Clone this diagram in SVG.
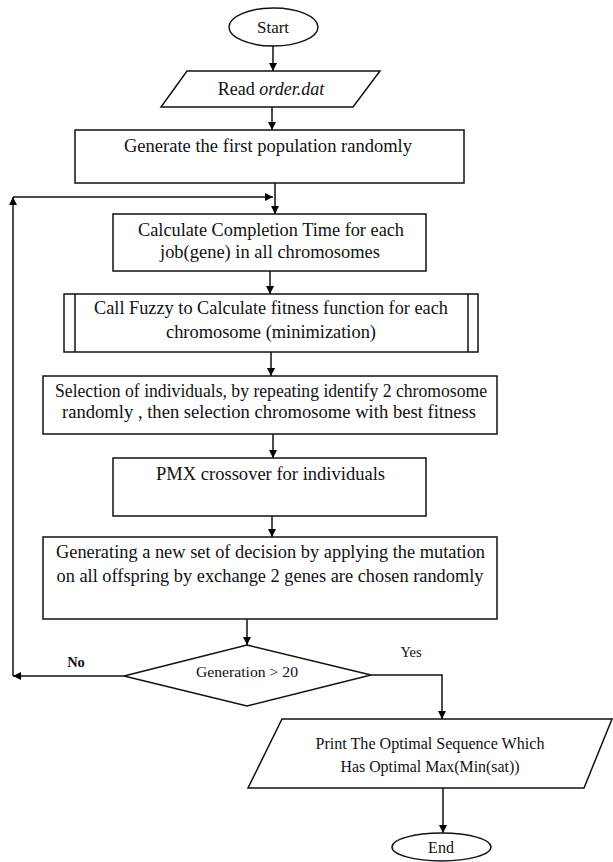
<svg xmlns="http://www.w3.org/2000/svg" width="613" height="862" viewBox="0 0 613 862" font-family="'Liberation Serif', 'DejaVu Serif', serif">
<defs>
<marker id="ah" viewBox="0 0 10 10" refX="10" refY="5" markerWidth="9" markerHeight="8" markerUnits="userSpaceOnUse" orient="auto">
<path d="M0,0 L10,5 L0,10 z" fill="#000"/>
</marker>
<style>
.shape{fill:#fff;stroke:#111;stroke-width:1.5}
.conn{fill:none;stroke:#111;stroke-width:1.5;marker-end:url(#ah)}
.line{fill:none;stroke:#111;stroke-width:1.5}
text{font-family:'Liberation Serif', 'DejaVu Serif', serif;fill:#111;text-anchor:middle}
.t18{font-size:18px}
.t16{font-size:16px}
.t14{font-size:14.5px}
</style>
</defs>
<rect width="613" height="862" fill="#fff"/>
<g id="connectors">
<path class="conn" d="M273,46 V71"/>
<path class="conn" d="M272,107 V130"/>
<path class="conn" d="M275,183 V214"/>
<path class="conn" d="M124,676 H13"/>
<path class="conn" d="M13,676 V197"/>
<path class="conn" d="M13,197 H273"/>
<path class="conn" d="M270,271 V294"/>
<path class="conn" d="M271,352 V376"/>
<path class="conn" d="M273,434 V458"/>
<path class="conn" d="M272,516 V537"/>
<path class="conn" d="M247,619 V645"/>
<path class="conn" d="M371,675 H442 V719"/>
<path class="conn" d="M443,788 V833"/>
</g>
<g id="start">
<ellipse class="shape" cx="273.5" cy="27" rx="44.5" ry="19"/>
<text x="273" y="33" font-size="17" textLength="32" lengthAdjust="spacingAndGlyphs">Start</text>
</g>
<g id="read">
<polygon class="shape" points="187,71 380,71 353,107 161,107"/>
<text class="t18" x="271" y="95">Read <tspan font-style="italic">order.dat</tspan></text>
</g>
<g id="generate">
<rect class="shape" x="75" y="130" width="389" height="53"/>
<text class="t18" x="268" y="152" textLength="288" lengthAdjust="spacingAndGlyphs">Generate the first population randomly</text>
</g>
<g id="calculate">
<rect class="shape" x="113" y="214" width="313" height="57"/>
<text class="t18" x="271" y="236" textLength="266" lengthAdjust="spacingAndGlyphs">Calculate Completion Time for each</text>
<text class="t18" x="270" y="258" textLength="220" lengthAdjust="spacingAndGlyphs">job(gene) in all chromosomes</text>
</g>
<g id="fuzzy">
<rect class="shape" x="64" y="294" width="414" height="58"/>
<line class="line" x1="75" y1="294" x2="75" y2="352"/>
<line class="line" x1="468" y1="294" x2="468" y2="352"/>
<text class="t18" x="271" y="314" textLength="354" lengthAdjust="spacingAndGlyphs">Call Fuzzy to Calculate fitness function for each</text>
<text class="t18" x="271" y="338" textLength="210" lengthAdjust="spacingAndGlyphs">chromosome (minimization)</text>
</g>
<g id="selection">
<rect class="shape" x="43" y="376" width="454" height="58"/>
<text class="t18" x="271" y="397" textLength="432" lengthAdjust="spacingAndGlyphs">Selection of individuals, by repeating identify 2 chromosome</text>
<text class="t18" x="269" y="418" textLength="414" lengthAdjust="spacingAndGlyphs">randomly , then selection chromosome with best fitness</text>
</g>
<g id="pmx">
<rect class="shape" x="113" y="458" width="313" height="58"/>
<text class="t18" x="270.5" y="480" textLength="229" lengthAdjust="spacingAndGlyphs">PMX crossover for individuals</text>
</g>
<g id="mutation">
<rect class="shape" x="43" y="537" width="454" height="82"/>
<text class="t18" x="270.5" y="558" textLength="429" lengthAdjust="spacingAndGlyphs">Generating a new set of decision by applying the mutation</text>
<text class="t18" x="270" y="582" textLength="427" lengthAdjust="spacingAndGlyphs">on all offspring by exchange 2 genes are chosen randomly</text>
</g>
<g id="decision">
<polygon class="shape" points="247,645 371,675 247,706 124,676"/>
<text class="t14" x="247" y="677" textLength="102" lengthAdjust="spacingAndGlyphs">Generation &gt; 20</text>
</g>
<g id="labels">
<text class="t14" x="76" y="667" font-weight="bold">No</text>
<text class="t14" x="411" y="657">Yes</text>
</g>
<g id="print">
<polygon class="shape" points="282,719 612,719 584,788 248,788"/>
<text class="t16" x="430" y="749" textLength="229" lengthAdjust="spacingAndGlyphs">Print The Optimal Sequence Which</text>
<text class="t16" x="430" y="772" textLength="179" lengthAdjust="spacingAndGlyphs">Has Optimal Max(Min(sat))</text>
</g>
<g id="end">
<ellipse class="shape" cx="441.5" cy="847" rx="49.5" ry="14"/>
<text class="t16" x="441" y="853">End</text>
</g>
</svg>
